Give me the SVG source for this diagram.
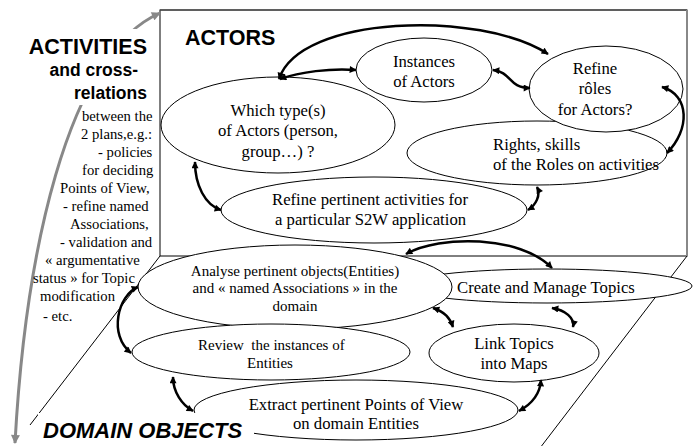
<svg xmlns="http://www.w3.org/2000/svg" width="696" height="446" viewBox="0 0 696 446">
<defs>
<style>
.n{fill:#fff;stroke:#000;stroke-width:1}
.t{font-size:16.7px;fill:#000}
.s{font-size:15px}
.l{font-size:14.7px;fill:#000}
.h{font-family:'Liberation Sans',Arial,sans-serif;font-weight:bold;fill:#000}
.c{fill:none;stroke:#000;stroke-width:2.5;marker-start:url(#ah);marker-end:url(#ah)}
.g{fill:none;stroke:#888;stroke-width:3;marker-start:url(#gh);marker-end:url(#gh)}
.pl{fill:none;stroke:#000;stroke-width:1}
</style>
<marker id="ah" viewBox="0 0 10 10" refX="9" refY="5" markerWidth="9" markerHeight="7" markerUnits="userSpaceOnUse" orient="auto-start-reverse"><path d="M0,0 L10,5 L0,10 z" fill="#000"/></marker>
<marker id="gh" viewBox="0 0 10 10" refX="9" refY="5" markerWidth="10" markerHeight="9" markerUnits="userSpaceOnUse" orient="auto-start-reverse"><path d="M0,0 L10,5 L0,10 z" fill="#888"/></marker>
</defs>

<g id="domain-plane">
<line class="pl" x1="160" y1="256" x2="30" y2="425"/>
<line class="pl" x1="687" y1="256" x2="540" y2="448"/>
</g>

<g id="actors-plane">
<rect x="160" y="10" width="527" height="246" fill="#fff" stroke="#000" stroke-width="1"/>
<line x1="160" y1="10" x2="687" y2="10" stroke="#555" stroke-width="1.5"/>
<line x1="687" y1="10" x2="687" y2="256" stroke="#888" stroke-width="2"/>
<text class="h" x="185" y="45" font-size="21.5">ACTORS</text>
</g>

<g id="gray-arc">
<path class="g" d="M15,443 C25,260 65,55 160,13"/>
</g>

<g id="activities-label" font-family="Liberation Serif, Times New Roman, serif">
<rect x="20" y="29" width="132" height="76" fill="#fff"/>
<text class="h" x="147" y="54" font-size="21.5" text-anchor="end">ACTIVITIES</text>
<text class="h" x="138" y="76" font-size="17.5" text-anchor="end">and cross-</text>
<text class="h" x="147" y="99" font-size="17.5" text-anchor="end">relations</text>
<text class="l" x="82" y="121">between the</text>
<text class="l" x="81" y="139">2 plans,e.g.:</text>
<text class="l" x="98" y="157">- policies</text>
<text class="l" x="82" y="175">for deciding</text>
<text class="l" x="60" y="193">Points of View,</text>
<text class="l" x="63" y="211">- refine named</text>
<text class="l" x="70" y="229">Associations,</text>
<text class="l" x="60" y="247">- validation and</text>
<text class="l" x="45" y="265">« argumentative</text>
<text class="l" x="33" y="283">status » for Topic</text>
<text class="l" x="40" y="301">modification</text>
<text class="l" x="43" y="321">- etc.</text>
</g>

<g id="nodes" font-family="Liberation Serif, Times New Roman, serif">
<g id="rights">
<ellipse class="n" cx="537" cy="153" rx="130" ry="32"/>
<text class="t" x="493" y="150">Rights, skills</text>
<text class="t" x="493" y="170">of the Roles on activities</text>
</g>
<g id="refine-roles">
<ellipse class="n" cx="606" cy="89" rx="77" ry="43"/>
<text class="t" x="595" y="74" text-anchor="middle">Refine</text>
<text class="t" x="595" y="94" text-anchor="middle">rôles</text>
<text class="t" x="595" y="115" text-anchor="middle">for Actors?</text>
</g>
<g id="instances">
<ellipse class="n" cx="424" cy="70" rx="68" ry="32"/>
<text class="t" x="424" y="67" text-anchor="middle">Instances</text>
<text class="t" x="424" y="87" text-anchor="middle">of Actors</text>
</g>
<g id="which-type">
<ellipse class="n" cx="278" cy="125" rx="117" ry="48"/>
<text class="t" x="278" y="116" text-anchor="middle">Which type(s)</text>
<text class="t" x="278" y="136" text-anchor="middle">of Actors (person,</text>
<text class="t" x="278" y="157" text-anchor="middle">group…) ?</text>
</g>
<g id="refine-activities">
<ellipse class="n" cx="374" cy="210" rx="153" ry="33"/>
<text class="t" x="272" y="205">Refine pertinent activities for</text>
<text class="t" x="275" y="225">a particular S2W application</text>
</g>
<g id="create-topics">
<ellipse class="n" cx="547" cy="286" rx="145" ry="17"/>
<text class="t" x="457" y="293">Create and Manage Topics</text>
</g>
<g id="analyse">
<ellipse class="n" cx="295" cy="287" rx="157" ry="42"/>
<text class="t s" x="295" y="276" text-anchor="middle">Analyse pertinent objects(Entities)</text>
<text class="t s" x="295" y="293" text-anchor="middle">and « named Associations » in the</text>
<text class="t s" x="295" y="311" text-anchor="middle">domain</text>
</g>
<g id="review">
<ellipse class="n" cx="271" cy="352" rx="139" ry="28"/>
<text class="t s" x="198" y="350" xml:space="preserve">Review  the instances of</text>
<text class="t s" x="270" y="368" text-anchor="middle">Entities</text>
</g>
<g id="link-topics">
<ellipse class="n" cx="514" cy="353" rx="85" ry="29"/>
<text class="t" x="514" y="349" text-anchor="middle">Link Topics</text>
<text class="t" x="514" y="369" text-anchor="middle">into Maps</text>
</g>
<g id="extract">
<ellipse class="n" cx="356" cy="410" rx="162" ry="30"/>
<text class="t" x="356" y="410" text-anchor="middle">Extract pertinent Points of View</text>
<text class="t" x="356" y="429" text-anchor="middle">on domain Entities</text>
</g>
</g>

<g id="connectors">
<path class="c" d="M279,79 C300,15 480,10 548,54"/>
<path class="c" d="M280,79 C300,72 330,68 356,70"/>
<path class="c" d="M493,70 C512,72 508,88 530,88"/>
<path class="c" d="M662,87 C690,95 690,130 667,153"/>
<path class="c" d="M195,162 C195,185 205,205 221,210"/>
<path class="c" d="M537,187 C541,195 536,205 528,210"/>
<path class="c" d="M406,254 C440,235 520,235 552,268"/>
<path class="c" d="M433,308 C445,312 450,318 453,327"/>
<path class="c" d="M552,308 C565,310 575,318 573,327"/>
<path class="c" d="M541,380 C540,395 530,405 519,411"/>
<path class="c" d="M173,377 C173,392 182,405 193,411"/>
<path class="c" d="M138,287 C118,295 108,335 131,353"/>
</g>

<g id="domain-label">
<rect x="38" y="413" width="216" height="33" fill="#fff"/>
<text class="h" x="43" y="438" font-size="22" font-style="italic">DOMAIN OBJECTS</text>
</g>
</svg>
